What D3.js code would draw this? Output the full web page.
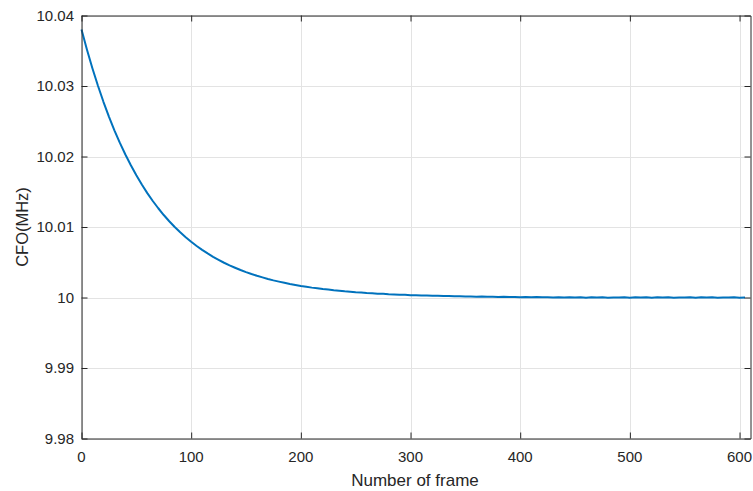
<!DOCTYPE html>
<html>
<head>
<meta charset="utf-8">
<script src="https://cdn.jsdelivr.net/npm/d3@7"></script>
<style>
  html, body { margin: 0; padding: 0; background: #ffffff; }
  svg { display: block; }
  text { font-family: "Liberation Sans", Arial, Helvetica, sans-serif; fill: #262626; }
</style>
</head>
<body>
<svg id="chart" width="753" height="491"></svg>
<script>
// Carrier frequency offset estimate per received frame
const frameNo = [
  0, 5, 10, 15, 20, 25, 30, 35, 40, 45, 50, 55, 60, 65, 70, 75, 80, 85, 90, 95,
  100, 105, 110, 115, 120, 125, 130, 135, 140, 145, 150, 155, 160, 165, 170, 175, 180, 185, 190, 195,
  200, 205, 210, 215, 220, 225, 230, 235, 240, 245, 250, 255, 260, 265, 270, 275, 280, 285, 290, 295,
  300, 305, 310, 315, 320, 325, 330, 335, 340, 345, 350, 355, 360, 365, 370, 375, 380, 385, 390, 395,
  400, 405, 410, 415, 420, 425, 430, 435, 440, 445, 450, 455, 460, 465, 470, 475, 480, 485, 490, 495,
  500, 505, 510, 515, 520, 525, 530, 535, 540, 545, 550, 555, 560, 565, 570, 575, 580, 585, 590, 595,
  600, 605
];
const cfoMHz = [
  10.03800, 10.03513, 10.03248, 10.03003, 10.02776, 10.02566, 10.02372, 10.02193, 10.02028, 10.01875,
  10.01733, 10.01602, 10.01481, 10.01369, 10.01266, 10.01170, 10.01082, 10.01000, 10.00925, 10.00855,
  10.00790, 10.00731, 10.00676, 10.00625, 10.00577, 10.00534, 10.00493, 10.00456, 10.00422, 10.00390,
  10.00360, 10.00333, 10.00308, 10.00285, 10.00263, 10.00243, 10.00225, 10.00208, 10.00192, 10.00178,
  10.00164, 10.00153, 10.00140, 10.00131, 10.00119, 10.00112, 10.00102, 10.00096, 10.00087, 10.00082,
  10.00074, 10.00070, 10.00063, 10.00060, 10.00054, 10.00052, 10.00046, 10.00044, 10.00039, 10.00038,
  10.00033, 10.00032, 10.00028, 10.00028, 10.00024, 10.00024, 10.00020, 10.00021, 10.00017, 10.00018,
  10.00014, 10.00015, 10.00012, 10.00013, 10.00009, 10.00011, 10.00008, 10.00010, 10.00006, 10.00008,
  10.00005, 10.00007, 10.00003, 10.00006, 10.00002, 10.00005, 10.00001, 10.00004, 9.99999, 10.00003,
  9.99999, 10.00003, 9.99998, 10.00002, 10.00000, 10.00003, 9.99998, 10.00001, 9.99999, 10.00003,
  9.99998, 10.00002, 9.99999, 10.00003, 9.99997, 10.00002, 10.00000, 10.00003, 9.99998, 10.00001,
  9.99999, 10.00003, 9.99998, 10.00002, 9.99999, 10.00003, 9.99998, 10.00001, 9.99999, 10.00002,
  9.99998, 10.00001
];
const xTicks = [0, 100, 200, 300, 400, 500, 600];
const yTicks = [9.98, 9.99, 10.00, 10.01, 10.02, 10.03, 10.04];
const yTickLabels = ["9.98", "9.99", "10", "10.01", "10.02", "10.03", "10.04"];
const xLabel = "Number of frame";
const yLabel = "CFO(MHz)";

const svg = d3.select("#chart");
const plot = { left: 81.5, right: 750.5, top: 15.5, bottom: 438.5 };

const x = d3.scaleLinear().domain([0, 610]).range([plot.left, plot.right]);
const y = d3.scaleLinear().domain([9.98, 10.04]).range([plot.bottom, plot.top]);

const axisColor = "#262626";
const gridColor = "#e3e3e3";
const tickLen = 6;

// grid
const grid = svg.append("g");
grid.selectAll("line.gx").data(xTicks).join("line")
  .attr("x1", d => Math.round(x(d)) + 0.5).attr("x2", d => Math.round(x(d)) + 0.5)
  .attr("y1", plot.top).attr("y2", plot.bottom)
  .attr("stroke", gridColor).attr("stroke-width", 1);
grid.selectAll("line.gy").data(yTicks).join("line")
  .attr("y1", d => Math.round(y(d)) + 0.5).attr("y2", d => Math.round(y(d)) + 0.5)
  .attr("x1", plot.left).attr("x2", plot.right)
  .attr("stroke", gridColor).attr("stroke-width", 1);

// data line
const line = d3.line()
  .x((d, i) => x(frameNo[i]))
  .y(d => y(d));
svg.append("path")
  .datum(cfoMHz)
  .attr("fill", "none")
  .attr("stroke", "#0072BD")
  .attr("stroke-width", 2)
  .attr("stroke-linejoin", "round")
  .attr("d", line);

// axes: ticks point inward, box closed on all four sides
const bottomAxis = d3.axisBottom(x).tickValues(xTicks).tickSizeInner(-tickLen).tickSizeOuter(0).tickFormat("");
const topAxis = d3.axisTop(x).tickValues(xTicks).tickSizeInner(-tickLen).tickSizeOuter(0).tickFormat("");
const leftAxis = d3.axisLeft(y).tickValues(yTicks).tickSizeInner(-tickLen).tickSizeOuter(0).tickFormat("");
const rightAxis = d3.axisRight(y).tickValues(yTicks).tickSizeInner(-tickLen).tickSizeOuter(0).tickFormat("");

function styleAxis(g) {
  g.selectAll("path.domain").attr("stroke", axisColor).attr("stroke-width", 1);
  g.selectAll(".tick line").attr("stroke", axisColor).attr("stroke-width", 1);
}
svg.append("g").attr("transform", `translate(0,${plot.bottom})`).call(bottomAxis).call(styleAxis);
svg.append("g").attr("transform", `translate(0,${plot.top})`).call(topAxis).call(styleAxis);
svg.append("g").attr("transform", `translate(${plot.left},0)`).call(leftAxis).call(styleAxis);
svg.append("g").attr("transform", `translate(${plot.right},0)`).call(rightAxis).call(styleAxis);

// tick labels
svg.append("g").selectAll("text").data(xTicks).join("text")
  .attr("x", d => x(d)).attr("y", plot.bottom + 23)
  .attr("text-anchor", "middle").attr("font-size", 15)
  .text(d => d);
svg.append("g").selectAll("text").data(yTicks).join("text")
  .attr("x", plot.left - 7.5).attr("y", d => y(d))
  .attr("dy", "0.36em")
  .attr("text-anchor", "end").attr("font-size", 15)
  .text((d, i) => yTickLabels[i]);

// axis titles
svg.append("text")
  .attr("x", (plot.left + plot.right) / 2 - 1).attr("y", 485.5)
  .attr("text-anchor", "middle").attr("font-size", 17)
  .text(xLabel);
svg.append("text")
  .attr("transform", `translate(28,${(plot.top + plot.bottom) / 2}) rotate(-90)`)
  .attr("text-anchor", "middle").attr("font-size", 16.5)
  .text(yLabel);
</script>
</body>
</html>
